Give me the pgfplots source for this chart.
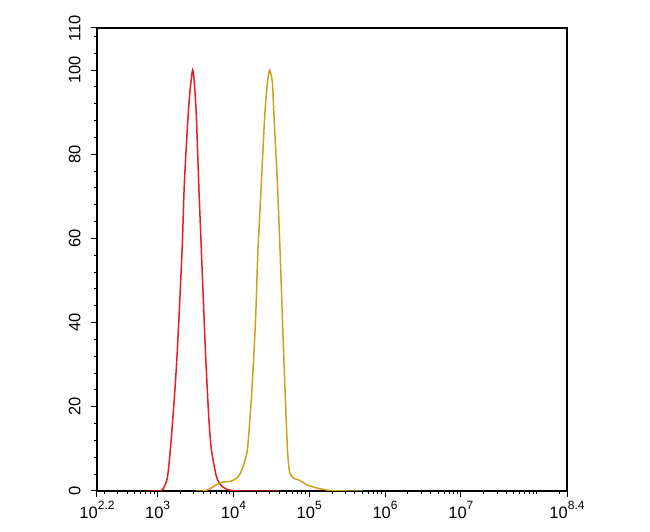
\documentclass[border=0pt]{standalone}
\usepackage{fontspec}
\setmainfont{Liberation Sans}
\usepackage{pgfplots}
\pgfplotsset{compat=1.18}
\definecolor{redline}{RGB}{232,28,36}
\definecolor{goldline}{RGB}{204,160,30}
\newcommand{\tp}[1]{10\raisebox{0.5em}{\fontsize{12}{12}\selectfont #1}}
\begin{document}
\begin{tikzpicture}
\begin{axis}[
  scale only axis,
  width=470pt, height=463pt,
  xmin=2.2, xmax=8.4,
  ymin=0, ymax=110,
  axis line style={line width=1.3pt},
  tick align=outside,
  tick pos=left,
  major tick length=6pt,
  minor tick length=3pt,
  tick style={black, line width=1pt},
  xtick={2.2,3,4,5,6,7,8.4},
  xticklabels={\tp{2.2},\tp{3},\tp{4},\tp{5},\tp{6},\tp{7},\tp{8.4}},
  minor xtick={2.301,2.477,2.602,2.699,2.778,2.845,2.903,2.954,
               3.301,3.477,3.602,3.699,3.778,3.845,3.903,3.954,
               4.301,4.477,4.602,4.699,4.778,4.845,4.903,4.954,
               5.301,5.477,5.602,5.699,5.778,5.845,5.903,5.954,
               6.301,6.477,6.602,6.699,6.778,6.845,6.903,6.954,
               7.301,7.477,7.602,7.699,7.778,7.845,7.903,7.954,8,8.301},
  ytick={0,20,40,60,80,100,110},
  minor ytick={4,8,12,16,24,28,32,36,44,48,52,56,64,68,72,76,84,88,92,96,104,108},
  /pgf/number format/assume math mode=true,
  ticklabel style={font=\fontsize{16.5}{19}\selectfont},
  yticklabel style={rotate=90, anchor=south},
  yticklabel shift={7pt},
  xticklabel shift={1pt},
]
\addplot[redline, line width=1.5pt, smooth, tension=0.4] coordinates {
(2.9,0) (3.034,0) (3.074,0.5) (3.127,3) (3.167,9.7) (3.220,22) (3.260,33.5)
(3.322,57) (3.352,73) (3.401,89) (3.432,96) (3.462,100) (3.484,97) (3.511,89)
(3.542,73) (3.577,57) (3.630,33.5) (3.674,17.6) (3.710,9.7) (3.776,3.4)
(3.842,1.2) (3.918,0.4) (3.988,0.1) (4.094,0) (4.6,0)
};
\addplot[goldline, line width=1.5pt, smooth, tension=0.4] coordinates {
(3.5,0) (3.604,0) (3.697,0.6) (3.776,1.5) (3.856,2.1) (3.962,2.3) (4.041,3)
(4.094,4.3) (4.147,7) (4.183,9.7) (4.213,16) (4.249,25.6) (4.293,41.4)
(4.323,57) (4.368,73) (4.412,89) (4.448,97) (4.478,100) (4.514,97) (4.535,89)
(4.580,73) (4.615,57) (4.646,41) (4.677,25.6) (4.713,9.7) (4.743,4.3)
(4.800,3) (4.866,2.6) (4.978,1.4) (5.127,0.6) (5.286,0.1) (5.485,0) (5.7,0)
};
\end{axis}
\path (current axis.south west) ++(-97pt,-41pt) rectangle ++(650pt,532pt);
\end{tikzpicture}
\end{document}
